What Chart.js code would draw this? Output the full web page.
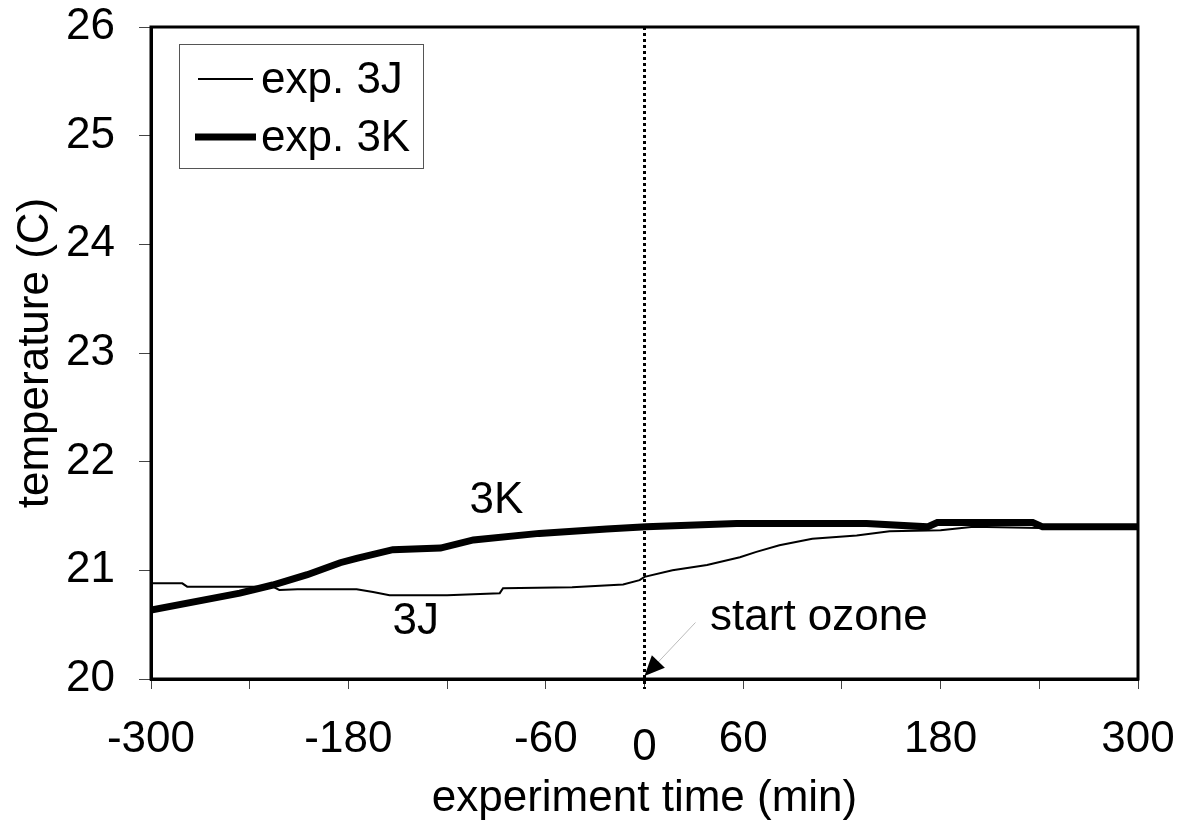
<!DOCTYPE html>
<html>
<head>
<meta charset="utf-8">
<script src="https://cdn.jsdelivr.net/npm/chart.js@4/dist/chart.umd.min.js"></script>
<style>
    html, body { margin: 0; padding: 0; background: #fff; }
    canvas { display: block; }
</style>
</head>
<body>
<canvas id="temp-chart" width="1185" height="825"></canvas>
<script>
// experiment 3J (thin line)
const timeJ = [-300, -281, -278, -226, -222, -211, -175, -165, -155, -120, -88, -86, -44, -13, -3, 0, 17, 38, 58, 68, 82, 102, 129, 149, 180, 200, 240, 300];
const tempJ = [20.88, 20.88, 20.85, 20.85, 20.82, 20.825, 20.825, 20.80, 20.77, 20.77, 20.79, 20.835, 20.845, 20.87, 20.91, 20.94, 21.00, 21.05, 21.12, 21.17, 21.23, 21.29, 21.32, 21.36, 21.37, 21.40, 21.39, 21.39];

// experiment 3K (thick line)
const timeK = [-300, -246, -226, -205, -185, -175, -153, -124, -104, -64, -23, 1, 56, 135, 172, 178, 236, 242, 300];
const tempK = [20.635, 20.79, 20.865, 20.96, 21.07, 21.11, 21.19, 21.205, 21.28, 21.34, 21.38, 21.40, 21.43, 21.43, 21.40, 21.44, 21.44, 21.40, 21.40];

const xTicks = [-300, -180, -60, 60, 180, 300];
const yTicks = [20, 21, 22, 23, 24, 25, 26];

const FONT = '"Liberation Sans", Arial, Helvetica, sans-serif';

function toPoints(times, temps) {
    return times.map((t, i) => ({ x: t, y: temps[i] }));
}

// drop the label overhang padding so the plot area sits where the layout padding says
function noScalePadding(scale) {
    scale.paddingTop = 0;
    scale.paddingBottom = 0;
    scale.paddingLeft = 0;
    scale.paddingRight = 0;
}

const framePlugin = {
    id: 'frame',
    afterDatasetsDraw(chart) {
        const { ctx, chartArea, scales } = chart;
        const x0 = scales.x.getPixelForValue(0);

        // dotted line at ozone start
        ctx.save();
        ctx.strokeStyle = '#000';
        ctx.lineWidth = 3;
        ctx.setLineDash([3, 3]);
        ctx.beginPath();
        ctx.moveTo(x0, chartArea.top);
        ctx.lineTo(x0, chartArea.bottom + 10);
        ctx.stroke();
        ctx.restore();

        // frame
        ctx.save();
        ctx.strokeStyle = '#000';
        ctx.lineWidth = 3;
        ctx.strokeRect(chartArea.left, chartArea.top, chartArea.right - chartArea.left, chartArea.bottom - chartArea.top);
        ctx.restore();

        // text labels
        ctx.save();
        ctx.fillStyle = '#000';
        ctx.font = '44px ' + FONT;
        ctx.textAlign = 'center';
        ctx.textBaseline = 'middle';
        ctx.fillText('3K', scales.x.getPixelForValue(-90), scales.y.getPixelForValue(21.64));
        ctx.fillText('3J', scales.x.getPixelForValue(-139), scales.y.getPixelForValue(20.53));
        ctx.fillText('start ozone', scales.x.getPixelForValue(106), scales.y.getPixelForValue(20.56));
        ctx.fillText('0', x0, chartArea.bottom + 69);

        // arrow to ozone start
        const ax = scales.x.getPixelForValue(31);
        const ay = scales.y.getPixelForValue(20.52);
        const tx = x0;
        const ty = chartArea.bottom - 3;
        ctx.strokeStyle = '#bbb';
        ctx.lineWidth = 1;
        ctx.beginPath();
        ctx.moveTo(ax, ay);
        ctx.lineTo(tx + 10, ty - 10);
        ctx.stroke();
        const ang = Math.atan2(ty - ay, tx - ax);
        const len = 22, half = 0.42;
        ctx.fillStyle = '#000';
        ctx.beginPath();
        ctx.moveTo(tx, ty);
        ctx.lineTo(tx - len * Math.cos(ang - half), ty - len * Math.sin(ang - half));
        ctx.lineTo(tx - len * Math.cos(ang + half), ty - len * Math.sin(ang + half));
        ctx.closePath();
        ctx.fill();
        ctx.restore();

        // legend box
        ctx.save();
        ctx.strokeStyle = '#555';
        ctx.lineWidth = 1;
        ctx.strokeRect(179.5, 44.5, 244, 124);
        ctx.font = '44px ' + FONT;
        ctx.fillStyle = '#000';
        ctx.textAlign = 'left';
        ctx.textBaseline = 'middle';
        const rows = [79, 137];
        chart.data.datasets.forEach((ds, i) => {
            ctx.strokeStyle = '#000';
            ctx.lineWidth = ds.borderWidth;
            ctx.beginPath();
            ctx.moveTo(i === 0 ? 198 : 195, rows[i]);
            ctx.lineTo(i === 0 ? 253 : 256, rows[i]);
            ctx.stroke();
            ctx.fillText(ds.label, 261, rows[i] + 2);
        });
        ctx.restore();
    }
};

new Chart(document.getElementById('temp-chart'), {
    type: 'line',
    data: {
        datasets: [
            {
                label: 'exp. 3J',
                data: toPoints(timeJ, tempJ),
                borderColor: '#000',
                borderWidth: 2,
                pointRadius: 0,
                tension: 0
            },
            {
                label: 'exp. 3K',
                data: toPoints(timeK, tempK),
                borderColor: '#000',
                borderWidth: 7,
                pointRadius: 0,
                tension: 0
            }
        ]
    },
    options: {
        responsive: false,
        animation: false,
        devicePixelRatio: 1,
        layout: { padding: { left: 0, right: 47, top: 27, bottom: 0 } },
        plugins: {
            legend: { display: false },
            tooltip: { enabled: false }
        },
        scales: {
            x: {
                type: 'linear',
                min: -300,
                max: 300,
                afterFit: scale => { scale.height = 146; noScalePadding(scale); },
                afterBuildTicks: scale => {
                    scale.ticks = [];
                    for (let v = -300; v <= 300; v += 60) scale.ticks.push({ value: v });
                },
                ticks: {
                    color: '#000',
                    font: { family: FONT, size: 44 },
                    padding: 24,
                    maxRotation: 0,
                    autoSkip: false,
                    callback: v => xTicks.includes(v) ? String(v) : ''
                },
                grid: { drawOnChartArea: false, drawTicks: true, tickLength: 10, color: '#444', lineWidth: 1 },
                border: { display: true, color: '#000', width: 3 },
                title: {
                    display: true,
                    text: 'experiment time (min)',
                    color: '#000',
                    font: { family: FONT, size: 44 },
                    padding: { top: 11, bottom: 0 }
                }
            },
            y: {
                min: 20,
                max: 26,
                afterFit: scale => { scale.width = 151; noScalePadding(scale); },
                afterBuildTicks: scale => {
                    scale.ticks = yTicks.map(v => ({ value: v }));
                },
                ticks: {
                    color: '#000',
                    font: { family: FONT, size: 44 },
                    padding: 24
                },
                grid: { drawOnChartArea: false, drawTicks: true, tickLength: 12, color: '#444', lineWidth: 1 },
                border: { display: true, color: '#000', width: 3 },
                title: {
                    display: true,
                    text: 'temperature (C)',
                    color: '#000',
                    font: { family: FONT, size: 44 },
                    padding: { top: 9, bottom: 0 }
                }
            }
        }
    },
    plugins: [framePlugin]
});
</script>
</body>
</html>
